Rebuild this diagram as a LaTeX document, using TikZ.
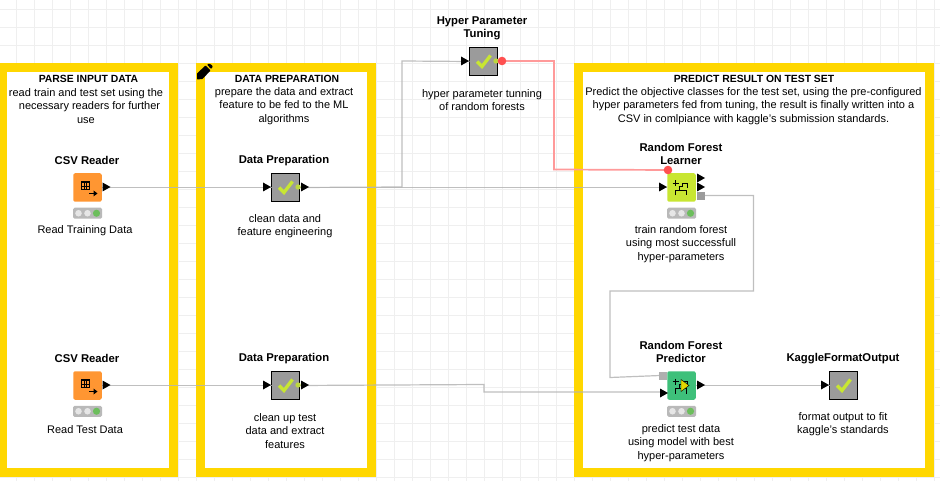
\documentclass[tikz,border=0pt]{standalone}
\usepackage{fontspec}
\setmainfont{Liberation Sans}
\definecolor{frameY}{HTML}{FFD700}
\definecolor{gridC}{HTML}{EFEFEF}
\definecolor{wireC}{HTML}{B4B4B4}
\definecolor{redW}{HTML}{FF9A9A}
\definecolor{redD}{HTML}{FF5050}
\definecolor{orangeN}{HTML}{FF9632}
\definecolor{limeN}{HTML}{C8E632}
\definecolor{greenN}{HTML}{3EC07A}
\definecolor{grayN}{HTML}{9B9B9B}
\definecolor{lightC}{HTML}{B9B9B9}
\definecolor{dotL}{HTML}{E6E6E6}
\definecolor{dotG}{HTML}{6CBE5C}
\tikzset{
 x=1pt,y=-1pt,
 ttlf/.style={font=\fontsize{10.4}{13.5}\selectfont\bfseries,align=center,inner sep=0pt,text=black},
 ttl/.style={font=\fontsize{11.3}{13.3}\selectfont\bfseries,align=center,inner sep=0pt,text=black},
 txt/.style={font=\fontsize{11}{13.5}\selectfont,align=center,inner sep=0pt,text=black},
 frameB/.style={draw=frameY,line width=9pt,fill=white},
 wire/.style={draw=wireC,line width=1.2pt,opacity=.85},
 redwire/.style={draw=redW,line width=1.7pt},
 nodebox/.style={minimum size=28.5pt,inner sep=0pt,outer sep=0pt},
 greybox/.style={nodebox,fill=grayN,draw=black,line width=.9pt,minimum size=27.6pt},
 colbox/.style={nodebox,rounded corners=2pt},
}
\newcommand{\chk}[1]{\draw[limeN,line width=3.3pt] ([shift={(-6.5,0)}]#1.center) -- ([shift={(-1.5,5)}]#1.center) -- ([shift={(7,-6)}]#1.center);}
\newcommand{\tri}[2]{\fill[black] (#1,#2-4.5) -- (#1+8,#2) -- (#1,#2+4.5) -- cycle;}
\newcommand{\limedot}[2]{\fill[limeN!85!gray] (#1,#2) circle (2.7);}
\newcommand{\lights}[1]{%
 \begin{scope}[shift={(#1.south)}]
 \fill[lightC,rounded corners=1.5pt] (-14.5,6) rectangle (14.5,17);
 \fill[dotL] (-9,11.5) circle (3.3);
 \fill[dotL] (0,11.5) circle (3.3);
 \fill[dotG] (9,11.5) circle (3.6);
 \end{scope}}
\newcommand{\csvicon}[1]{%
 \begin{scope}[shift={(#1.center)}]
 \draw[black,line width=.7pt] (-6.5,-6.5) rectangle (1.5,1.5);
 \fill[black] (-6.5,-6.5) rectangle (1.5,-4.5);
 \draw[black,line width=.4pt] (-6.5,-1.5) -- (1.5,-1.5) (-3.8,-4.5) -- (-3.8,1.5) (-1.1,-4.5) -- (-1.1,1.5);
 \draw[black,line width=1.3pt] (1.5,6) -- (7,6);
 \fill[black] (6,3) -- (10,6) -- (6,9) -- cycle;
 \end{scope}}
\newcommand{\rficon}[1]{%
 \begin{scope}[shift={(#1.center)},black,line width=1.8pt]
 \draw (-9,-4) -- (-3,-4) (-6,-7) -- (-6,-1);
 \draw (-3,-1) -- (1,-1) -- (1,-4) -- (6,-4) -- (6,1);
 \draw (-6,8) -- (-6,3) -- (5,3) -- (5,8);
 \draw (-2,-1) -- (-2,3);
 \end{scope}}
\begin{document}
\begin{tikzpicture}
\useasboundingbox (0,0) rectangle (940,481);
\fill[white] (0,0) rectangle (940,481);
\foreach \gx in {16,34,...,940} \draw[gridC,line width=.9pt] (\gx,0) -- (\gx,481);
\foreach \gy in {9,27,...,481} \draw[gridC,line width=.9pt] (0,\gy) -- (940,\gy);
% frames
\draw[frameB] (2.5,67.5) rectangle (173.5,472.5);
\draw[frameB] (200.5,67.5) rectangle (371.5,472.5);
\draw[frameB] (578.5,67.5) rectangle (929.5,472.5);
% pencil
\fill[black,rounded corners=.5pt] (197,73.5) -- (205.5,65.5) -- (210.5,70.5) -- (202.5,79) -- (197,79.5) -- cycle;
\fill[black,rounded corners=.8pt] (207,64.5) -- (209,63.5) -- (212.5,65.5) -- (212.5,67.5) -- (211,69) -- cycle;
% frame text
\node[ttlf] (t1) at (88.5,78.5) {PARSE INPUT DATA};
\node[txt] (d1) at (86,106) {read train and test set using the\\\hspace*{7pt}necessary readers for further\\use};
\node[ttlf] (t2) at (287,78.5) {DATA PREPARATION};
\node[txt] (d2) at (284,106) {prepare the data and extract\\feature to be fed to the ML\\algorithms};
\node[ttlf] (t3) at (754,78.5) {PREDICT RESULT ON TEST SET};
\node[txt] (d3) at (753.5,106) {Predict the objective classes for the test set, using the pre-configured\\hyper parameters fed from tuning, the result is finally written into a\\CSV in comlpiance with kaggle's submission standards.};
% nodes
\node[colbox,fill=orangeN] (csvA) at (87.5,187.5) {};
\node[colbox,fill=orangeN] (csvB) at (87.5,385.5) {};
\node[greybox] (dpA) at (285.5,187.5) {};
\node[greybox] (dpB) at (285.5,385.5) {};
\node[greybox] (hpt) at (483.5,61.5) {};
\node[colbox,fill=limeN] (rfl) at (681.5,187.5) {};
\node[colbox,fill=greenN] (rfp) at (681.5,385.5) {};
\node[greybox] (kfo) at (843.5,385.5) {};
% wire corners
\coordinate (wa1) at (402,187);\coordinate (wa2) at (402,61);
\coordinate (wr1) at (554,61);\coordinate (wr2) at (554,169.5);
\coordinate (wg0) at (705,195.5);\coordinate (wg1) at (753.5,195.5);\coordinate (wg2) at (753.5,291);\coordinate (wg3) at (610,291);\coordinate (wg4) at (610,377.5);\coordinate (wg5) at (660,375.5);
\coordinate (wb1) at (484,384.5);\coordinate (wb2) at (484,392);\coordinate (wb3) at (660,392);
\coordinate (redO) at (502,61);\coordinate (redI) at (668,170);
% wires
\draw[wire] (csvA.east) -- (dpA.west);
\draw[wire] (dpA.east) -- (wa1) -- (wa2) -- (hpt.west);
\draw[wire] (dpA.east) -- (rfl.west);
\draw[wire] (csvB.east) -- (dpB.west);
\draw[wire] (dpB.east) -- (wb1) -- (wb2) -- (wb3);
\draw[wire] (rfp.east) -- (kfo.west);
\draw[wire] (wg0) -- (wg1) -- (wg2) -- (wg3) -- (wg4) -- (wg5);
\draw[redwire] (redO) -- (wr1) -- (wr2) -- (redI);
% ports and icons
\foreach \n in {dpA,dpB,hpt,kfo} {\chk{\n}}
\csvicon{csvA}\csvicon{csvB}\rficon{rfl}\rficon{rfp}
\foreach \n in {csvA,csvB,rfl,rfp} {\lights{\n}}
\tri{102.5}{187}\tri{102.5}{385}
\tri{263}{187}\tri{263}{385}
\tri{301}{187}\tri{301}{385}
\limedot{298}{187}\limedot{298}{385}
\tri{461}{61}\limedot{496}{61}
\fill[redD] (redO) circle (4.3);
\fill[redD] (redI) circle (4.3);
\tri{659}{187}\tri{697}{178}\tri{697}{187}
\fill[grayN] (697,192) rectangle (705,200);
\fill[grayN!80!white] (659,372) rectangle (667,380);
\tri{660}{393}\tri{697}{385}
\tri{821}{385}
\fill[yellow!75!olive,draw=black,line width=.4pt] (681,379.5) -- (689,385.5) -- (681,391.5) -- cycle;
% node labels
\node[ttl] (a1) at (87,160.5) {CSV Reader};
\node[txt] (a2) at (85,230.5) {Read Training Data};
\node[ttl] (b1) at (87,358.5) {CSV Reader};
\node[txt] (b2) at (85,429.5) {Read Test Data};
\node[ttl] (c1) at (284,160.5) {Data Preparation};
\node[txt] (c2) at (285,226) {clean data and\\feature engineering};
\node[ttl] (e1) at (284,358.5) {Data Preparation};
\node[txt] (e2) at (285,431) {clean up test\\data and extract\\features};
\node[ttl] (f1) at (482,28) {Hyper Parameter\\Tuning};
\node[txt] (f2) at (482,100) {hyper parameter tunning\\of random forests};
\node[ttl] (g1) at (681,154) {Random Forest\\Learner};
\node[txt] (g2) at (681,244) {train random forest\\using most successfull\\hyper-parameters};
\node[ttl] (h1) at (681,352) {Random Forest\\Predictor};
\node[txt] (h2) at (681,443) {predict test data\\using model with best\\hyper-parameters};
\node[ttl] (k1) at (843,358.5) {KaggleFormatOutput};
\node[txt] (k2) at (843,424) {format output to fit\\kaggle's standards};
\end{tikzpicture}
\end{document}
